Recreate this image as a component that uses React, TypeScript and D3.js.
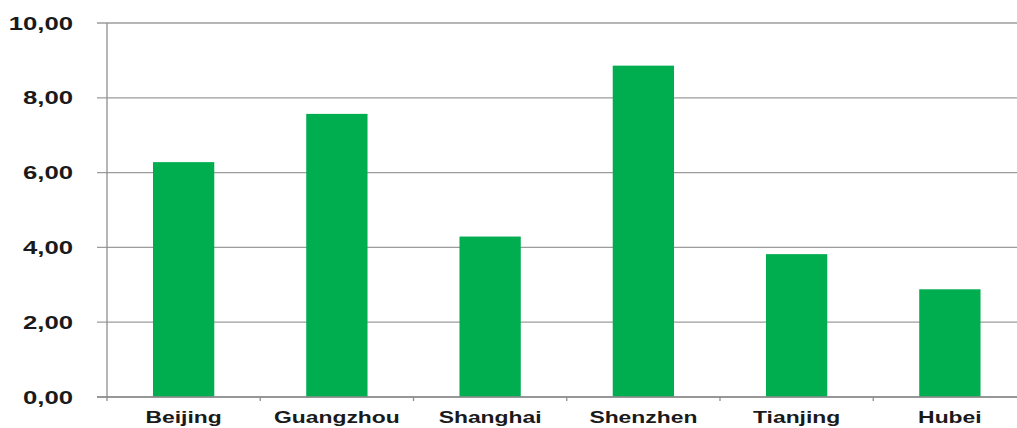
import React from "react";
import * as d3 from "d3";

const categories = ["Beijing", "Guangzhou", "Shanghai", "Shenzhen", "Tianjing", "Hubei"];
const values = [6.28, 7.57, 4.29, 8.86, 3.82, 2.88];
const yTicks = [0, 2, 4, 6, 8, 10];

const W = 1017;
const H = 428;
const margin = { left: 107, top: 23, bottom: 397, right: 1026.5 };
const stretch = 1.43;

const fmt = (v: number) => v.toFixed(2).replace(".", ",");

const App = () => {
  const x = d3
    .scaleBand<string>()
    .domain(categories)
    .range([margin.left, margin.right])
    .paddingInner(0.6)
    .paddingOuter(0.3);
  const y = d3.scaleLinear().domain([0, 10]).range([margin.bottom, margin.top]);
  const step = x.step();
  const boundaries = d3.range(0, categories.length + 1).map(i => margin.left + i * step);

  return (
    <svg width={W} height={H} style={{ position: "absolute", left: 0, top: 0, background: "#fff" }}>
      {/* gridlines + y ticks */}
      {yTicks.map(t => (
        <line key={"g" + t} x1={margin.left - 10} x2={W} y1={y(t)} y2={y(t)} stroke="#9c9c9c" strokeWidth={1.3} />
      ))}
      {/* bars */}
      {categories.map((c, i) => (
        <rect
          key={c}
          x={x(c)}
          y={y(values[i])}
          width={x.bandwidth()}
          height={y(0) - y(values[i])}
          fill="#00ad4f"
        />
      ))}
      {/* axes */}
      <line x1={margin.left} x2={margin.left} y1={y(10)} y2={y(0) + 4} stroke="#8e8e8e" strokeWidth={1.3} />
      <line x1={margin.left - 10} x2={W} y1={y(0)} y2={y(0)} stroke="#8e8e8e" strokeWidth={1.3} />
      {boundaries.slice(1).map((bx, i) => (
        <line key={"t" + i} x1={bx} x2={bx} y1={y(0)} y2={y(0) + 4} stroke="#8e8e8e" strokeWidth={1.3} />
      ))}
      {/* y labels */}
      {yTicks.map(t => (
        <text
          key={"l" + t}
          transform={`translate(73, ${y(t) + 6.5}) scale(${stretch},1)`}
          textAnchor="end"
          fontFamily="Liberation Sans, Arial, sans-serif"
          fontWeight="bold"
          fontSize={18}
          fill="#1a1a1a"
        >
          {fmt(t)}
        </text>
      ))}
      {/* category labels */}
      {categories.map(c => (
        <text
          key={"c" + c}
          transform={`translate(${(x(c) as number) + x.bandwidth() / 2}, 423) scale(${stretch},1)`}
          textAnchor="middle"
          fontFamily="Liberation Sans, Arial, sans-serif"
          fontWeight="bold"
          fontSize={16}
          fill="#1a1a1a"
        >
          {c}
        </text>
      ))}
    </svg>
  );
};

export default App;
